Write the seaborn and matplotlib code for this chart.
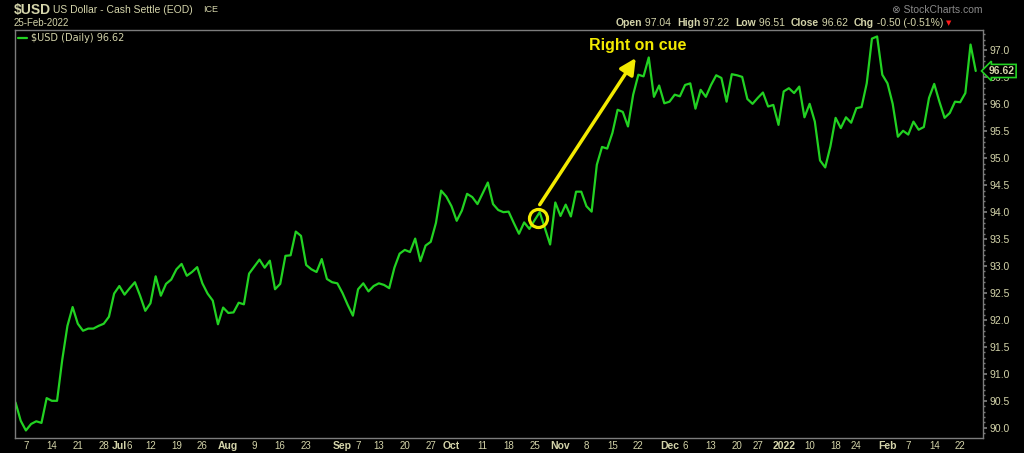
import numpy as np
import pandas as pd
import seaborn as sns
import matplotlib.pyplot as plt

# trading days (ICE holidays dropped)
holidays = ['2021-07-05', '2021-09-06', '2021-11-25', '2021-12-24', '2022-01-17', '2022-02-21']
dates = pd.bdate_range('2021-06-03', '2022-02-25')
dates = dates[~dates.isin(pd.to_datetime(holidays))]

close = [
    90.47, 90.13, 89.95, 90.07, 90.12, 90.09, 90.55, 90.50, 90.50, 91.26,
    91.89, 92.24, 91.93, 91.80, 91.84, 91.84, 91.89, 91.93, 92.06, 92.49,
    92.63, 92.47, 92.59, 92.70, 92.45, 92.17, 92.31, 92.81, 92.45, 92.67,
    92.75, 92.94, 93.04, 92.82, 92.89, 92.98, 92.68, 92.49, 92.36, 91.92,
    92.23, 92.13, 92.14, 92.32, 92.29, 92.86, 92.99, 93.12, 92.97, 93.10,
    92.57, 92.67, 93.19, 93.20, 93.64, 93.56, 93.02, 92.94, 92.89, 93.13,
    92.76, 92.70, 92.68, 92.50, 92.28, 92.08, 92.57, 92.68, 92.53, 92.63,
    92.68, 92.65, 92.59, 92.97, 93.23, 93.30, 93.26, 93.51, 93.09, 93.38,
    93.45, 93.80, 94.40, 94.29, 94.11, 93.84, 94.03, 94.34, 94.28, 94.15,
    94.35, 94.55, 94.15, 94.04, 94.00, 94.01, 93.80, 93.60, 93.81, 93.69,
    93.85, 94.00, 93.70, 93.40, 94.18, 93.93, 94.14, 93.92, 94.38, 94.38,
    94.11, 94.01, 94.88, 95.21, 95.18, 95.47, 95.90, 95.86, 95.59, 96.18,
    96.55, 96.52, 96.87, 96.14, 96.35, 96.02, 96.05, 96.18, 96.15, 96.36,
    96.39, 95.92, 96.27, 96.14, 96.36, 96.54, 96.49, 96.05, 96.56, 96.54,
    96.51, 96.10, 96.01, 96.12, 96.22, 95.96, 95.99, 95.62, 96.24, 96.30,
    96.21, 96.33, 95.76, 96.01, 95.68, 94.96, 94.83, 95.22, 95.75, 95.56,
    95.76, 95.66, 95.93, 95.95, 96.39, 97.22, 97.26, 96.55, 96.39, 96.01,
    95.40, 95.51, 95.44, 95.68, 95.53, 95.58, 96.12, 96.38, 96.05, 95.75,
    95.84, 96.05, 96.04, 96.21, 97.11, 96.62,
]

tick_dates = ['2021-06-07', '2021-06-14', '2021-06-21', '2021-06-28', '2021-07-01', '2021-07-06',
              '2021-07-12', '2021-07-19', '2021-07-26', '2021-08-02', '2021-08-09', '2021-08-16',
              '2021-08-23', '2021-09-01', '2021-09-07', '2021-09-13', '2021-09-20', '2021-09-27',
              '2021-10-01', '2021-10-11', '2021-10-18', '2021-10-25', '2021-11-01', '2021-11-08',
              '2021-11-15', '2021-11-22', '2021-12-01', '2021-12-06', '2021-12-13', '2021-12-20',
              '2021-12-27', '2022-01-03', '2022-01-10', '2022-01-18', '2022-01-24', '2022-02-01',
              '2022-02-07', '2022-02-14', '2022-02-22']
tick_labels = ['7', '14', '21', '28', 'Jul', '6', '12', '19', '26', 'Aug', '9', '16', '23',
               'Sep', '7', '13', '20', '27', 'Oct', '11', '18', '25', 'Nov', '8', '15', '22',
               'Dec', '6', '13', '20', '27', '2022', '10', '18', '24', 'Feb', '7', '14', '22']
month_labels = ['Jul', 'Aug', 'Sep', 'Oct', 'Nov', 'Dec', '2022', 'Feb']

yticks = np.arange(90.0, 97.01, 0.5)

df = pd.DataFrame({'date': dates, 'close': close})
df['day'] = np.arange(len(df))

TXT = '#d4d4aa'
GREEN = '#22d222'
YELLOW = '#f2ea00'
SPINE = '#7c7c7c'

sns.set_theme(style='dark', rc={'axes.facecolor': 'black', 'figure.facecolor': 'black'})
plt.rcParams['font.family'] = ['Liberation Sans', 'DejaVu Sans']

fig = plt.figure(figsize=(10.24, 4.53), dpi=100)
ax = fig.add_axes([15 / 1024, 1 - 438 / 453, 968 / 1024, 408 / 453])

sns.lineplot(data=df, x='day', y='close', ax=ax, color=GREEN, lw=1.6, label='\\$USD (Daily) 96.62')

ax.set_xlim(-0.1, 186.4)
ax.set_ylim(89.81, 97.38)
ax.set_xlabel('')
ax.set_ylabel('')

for s in ax.spines.values():
    s.set_color(SPINE)
    s.set_linewidth(1)

# x ticks at first trading day of each week / month
pos = [int(np.where(df['date'] == pd.Timestamp(d))[0][0]) for d in tick_dates]
ax.set_xticks(pos)
ax.set_xticklabels(tick_labels)
for lab in ax.get_xticklabels():
    if lab.get_text() in month_labels:
        lab.set_fontweight('bold')
        lab.set_fontsize(7.5)
    else:
        lab.set_fontsize(7)
ax.set_xticks(df['day'], minor=True)
ax.tick_params(axis='x', which='both', colors=SPINE, labelcolor=TXT, direction='out', pad=0.5)
ax.tick_params(axis='x', which='major', length=2)
ax.tick_params(axis='x', which='minor', length=1.5)

ax.yaxis.tick_right()
ax.set_yticks(yticks)
ax.set_yticklabels([f'{v:.1f}' for v in yticks])
ax.set_yticks(np.arange(89.9, 97.4, 0.1), minor=True)
ax.tick_params(axis='y', which='both', colors=SPINE, labelcolor=TXT, labelsize=7.5, pad=2)
ax.tick_params(axis='y', which='major', length=3)
ax.tick_params(axis='y', which='minor', length=1.5)

leg = ax.legend(loc='upper left', frameon=False, fontsize=7, handlelength=0.9,
                handletextpad=0.4, borderaxespad=0.1, borderpad=0.2)
for t in leg.get_texts():
    t.set_color(TXT)
    t.set_family('DejaVu Sans')

# last price tag
last = df['close'].iloc[-1]
ax.annotate(f'{last:.2f}', xy=(1.0, last), xycoords=('axes fraction', 'data'),
            xytext=(4, 0), textcoords='offset points', ha='left', va='center',
            fontsize=7.5, fontweight='bold', color=TXT, annotation_clip=False, zorder=5,
            bbox=dict(boxstyle='larrow,pad=0.15', fc='black', ec=GREEN, lw=1.2))

# annotation
ax.plot([100.7], [93.9], 'o', mfc='none', mec=YELLOW, mew=2.3, ms=13)
ax.annotate('', xy=(119.5, 96.86), xytext=(101.0, 94.14),
            arrowprops=dict(arrowstyle='-|>', color=YELLOW, lw=2.5, mutation_scale=24,
                            shrinkA=0, shrinkB=0))
ax.text(119.9, 97.1, 'Right on cue', color=YELLOW, fontsize=11.5, fontweight='bold',
        ha='center', va='center')

# header
fig.text(14 / 1024, 1 - 10 / 453, '\\$USD', color=TXT, fontsize=10, fontweight='bold', va='center')
fig.text(53 / 1024, 1 - 10 / 453, 'US Dollar - Cash Settle (EOD)', color=TXT, fontsize=7.5, va='center')
fig.text(203 / 1024, 1 - 10 / 453, 'ICE', color=TXT, fontsize=6.5, va='center')
fig.text(14 / 1024, 1 - 23 / 453, '25-Feb-2022', color=TXT, fontsize=7, va='center')
fig.text(983 / 1024, 1 - 10 / 453, '\u2297 StockCharts.com', color='#8a8a8a', fontsize=7.5,
         ha='right', va='center')

pieces = [('Open', 'bold'), (' 97.04  ', 'normal'), ('High', 'bold'), (' 97.22  ', 'normal'),
          ('Low', 'bold'), (' 96.51  ', 'normal'), ('Close', 'bold'), (' 96.62  ', 'normal'),
          ('Chg', 'bold'), (' -0.50 (-0.51%)', 'normal')]
renderer = fig.canvas.get_renderer()
xpix = 616
for txt, w in pieces:
    t = fig.text(xpix / 1024, 1 - 23.5 / 453, txt, color=TXT, fontsize=7.5, fontweight=w, va='center')
    xpix += t.get_window_extent(renderer).width
fig.text((xpix + 3) / 1024, 1 - 23 / 453, '\u25bc', color='#ff1a1a', fontsize=5, va='center',
         family='DejaVu Sans')

fig.savefig('out.png', dpi=100, facecolor='black')
